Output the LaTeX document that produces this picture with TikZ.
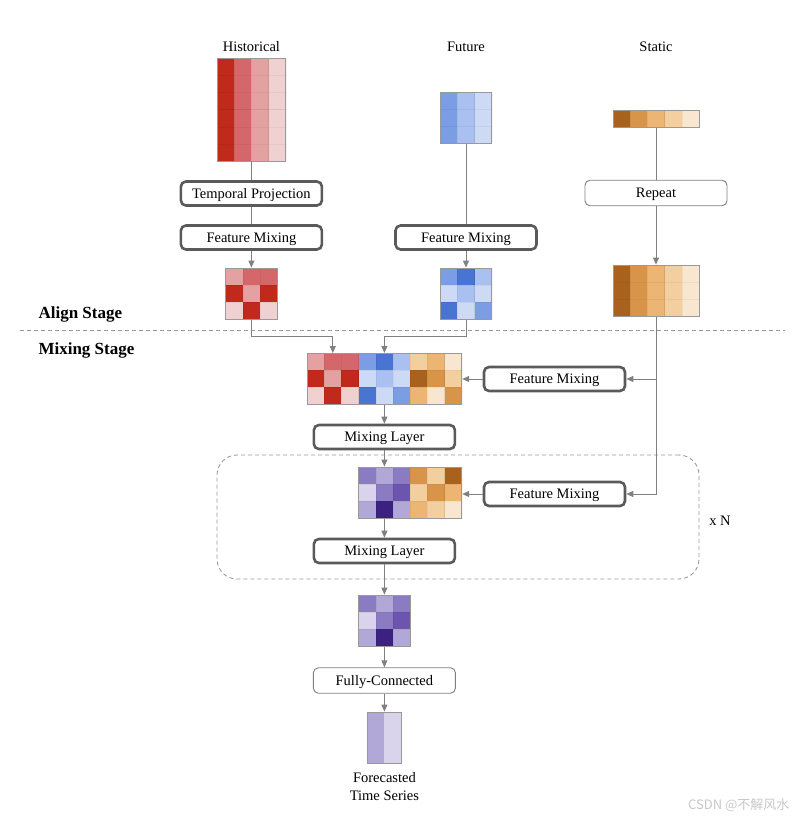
\documentclass[tikz,border=0pt]{standalone}
\usepackage{fontspec}
\setmainfont{Liberation Serif}
\newfontfamily\cjkfont{Noto Sans CJK SC}
\usetikzlibrary{arrows.meta}
\definecolor{histDark}{HTML}{C0291B}
\definecolor{histMid}{HTML}{D3676A}
\definecolor{histLight}{HTML}{E3A1A1}
\definecolor{histPale}{HTML}{F0D0D0}
\definecolor{futDark}{HTML}{4A74D2}
\definecolor{futMid}{HTML}{7A9DE3}
\definecolor{futLight}{HTML}{A9C0F0}
\definecolor{futPale}{HTML}{CCDAF5}
\definecolor{statDark}{HTML}{A8621E}
\definecolor{statMid}{HTML}{D8954A}
\definecolor{statLight}{HTML}{ECB574}
\definecolor{statPale}{HTML}{F3CFA0}
\definecolor{statFaint}{HTML}{F8E6D0}
\definecolor{mixDeep}{HTML}{3B2180}
\definecolor{mixDark}{HTML}{6B55AE}
\definecolor{mixMid}{HTML}{8A7BC2}
\definecolor{mixLight}{HTML}{B2A8D8}
\definecolor{mixPale}{HTML}{D9D3EB}
\definecolor{boxLine}{HTML}{5A5A5A}
\definecolor{wireLine}{HTML}{808080}
\newcommand{\cellrow}[3]{\foreach \c [count=\i from 0] in {#3}
    \filldraw[fill=\c, draw=black, draw opacity=0.045, line width=0.4pt] ({#1+\i*17.2},{#2}) rectangle ++(17.2,17.2);}

\begin{document}
\begin{tikzpicture}[x=1pt, y=-1pt,
    every node/.style={font=\fontsize{14.5}{17.5}\selectfont},
    heavybox/.style={draw=boxLine, line width=2.6pt, rounded corners=5pt, fill=white, minimum width=141, minimum height=24, inner sep=0, text height=12pt, text depth=2.4pt},
    thinbox/.style={draw=wireLine, line width=0.9pt, rounded corners=5pt, fill=white, minimum width=142, minimum height=25.5, inner sep=0, text height=12pt, text depth=2.4pt},
    grid/.style={draw=black!40, line width=0.8pt, inner sep=0},
    stage/.style={font=\fontsize{17}{20}\selectfont\bfseries, anchor=west},
    wire/.style={draw=wireLine, line width=1pt},
    arr/.style={wire, -{Triangle[length=7pt, width=6pt]}}]
    \useasboundingbox (0,0) rectangle (805,822);

    \node (histT) at (251.4,47) {Historical};
    \node (futT) at (466,47) {Future};
    \node (statT) at (656,47) {Static};

    \foreach \r in {0,...,5} {\cellrow{217}{58+\r*17.2}{histDark,histMid,histLight,histPale}}
    \node[grid, minimum width=68.8, minimum height=103.2] (histB) at (251.4,109.6) {};
    \foreach \r in {0,...,2} {\cellrow{440.2}{92+\r*17.2}{futMid,futLight,futPale}}
    \node[grid, minimum width=51.6, minimum height=51.6] (futB) at (466,117.8) {};
    \cellrow{613}{110}{statDark,statMid,statLight,statPale,statFaint}
    \node[grid, minimum width=86, minimum height=17.2] (statS) at (656,118.6) {};

    \node[heavybox] (tp) at (251.4,193.5) {Temporal Projection};
    \node[heavybox] (fmH) at (251.4,237.5) {Feature Mixing};
    \node[heavybox] (fmF) at (466,237.5) {Feature Mixing};
    \node[thinbox] (rep) at (656,193) {Repeat};

    \cellrow{225.6}{268}{histLight,histMid,histMid}
    \cellrow{225.6}{285.2}{histDark,histLight,histDark}
    \cellrow{225.6}{302.4}{histPale,histDark,histPale}
    \node[grid, minimum width=51.6, minimum height=51.6] (histG) at (251.4,293.8) {};
    \cellrow{440.2}{268}{futMid,futDark,futLight}
    \cellrow{440.2}{285.2}{futPale,futLight,futPale}
    \cellrow{440.2}{302.4}{futDark,futPale,futMid}
    \node[grid, minimum width=51.6, minimum height=51.6] (futG) at (466,293.8) {};
    \foreach \r in {0,...,2} {\cellrow{613}{265+\r*17.2}{statDark,statMid,statLight,statPale,statFaint}}
    \node[grid, minimum width=86, minimum height=51.6] (statB) at (656,290.8) {};

    \node[stage] (alignT) at (35,314) {Align Stage};
    \node[stage] (mixT) at (35,350) {Mixing Stage};
    \draw[draw=black!40, line width=0.9pt, dash pattern=on 4pt off 3pt] (20,330) -- (785,330);

    \cellrow{307}{353}{histLight,histMid,histMid,futMid,futDark,futLight,statPale,statLight,statFaint}
    \cellrow{307}{370.2}{histDark,histLight,histDark,futPale,futLight,futPale,statDark,statMid,statPale}
    \cellrow{307}{387.4}{histPale,histDark,histPale,futDark,futPale,futMid,statLight,statFaint,statMid}
    \node[grid, minimum width=154.8, minimum height=51.6] (mixG) at (384.4,378.8) {};
    \coordinate (inH) at (332.8,353);
    \coordinate (inF) at (384.4,353);

    \node[heavybox] (fmA) at (554.5,379) {Feature Mixing};
    \node[heavybox] (ml1) at (384.4,437) {Mixing Layer};

    \node[draw=black!40, line width=0.9pt, dash pattern=on 4pt off 3pt, rounded corners=20pt, minimum width=482, minimum height=124] (loop) at (458,517) {};
    \node (xN) at (720,521) {x N};

    \cellrow{358.6}{467}{mixMid,mixLight,mixMid,statMid,statPale,statDark}
    \cellrow{358.6}{484.2}{mixPale,mixMid,mixDark,statPale,statMid,statLight}
    \cellrow{358.6}{501.4}{mixLight,mixDeep,mixLight,statLight,statPale,statFaint}
    \node[grid, minimum width=103.2, minimum height=51.6] (pmG) at (410.2,492.8) {};
    \node[heavybox] (fmB) at (554.5,494) {Feature Mixing};
    \node[heavybox] (ml2) at (384.4,551) {Mixing Layer};

    \cellrow{358.6}{595}{mixMid,mixLight,mixMid}
    \cellrow{358.6}{612.2}{mixPale,mixMid,mixDark}
    \cellrow{358.6}{629.4}{mixLight,mixDeep,mixLight}
    \node[grid, minimum width=51.6, minimum height=51.6] (pG) at (384.4,620.8) {};
    \node[thinbox] (fc) at (384.4,680.5) {Fully-Connected};
    \fill[mixLight] (367.2,712) rectangle ++(17.2,51.6);
    \fill[mixPale] (384.4,712) rectangle ++(17.2,51.6);
    \node[grid, minimum width=34.4, minimum height=51.6] (outB) at (384.4,737.8) {};
    \node[align=center, font=\fontsize{14.5}{18}\selectfont] (outT) at (384.4,787) {Forecasted\\Time Series};

    \draw[wire] (histB) -- (tp);
    \draw[wire] (tp) -- (fmH);
    \draw[arr] (fmH) -- (histG);
    \draw[wire] (futB) -- (fmF);
    \draw[arr] (fmF) -- (futG);
    \draw[wire] (statS) -- (rep);
    \draw[arr] (rep) -- (statB);
    \draw[arr] (histG.south) -- ++(0,16.4) -| (inH);
    \draw[arr] (futG.south) -- ++(0,16.4) -| (inF);
    \draw[arr] (statB.south) |- (fmA.east);
    \draw[arr] (statB.south) |- (fmB.east);
    \draw[arr] (fmA.west) -- (fmA.west -| mixG.east);
    \draw[arr] (fmB.west) -- (fmB.west -| pmG.east);
    \draw[arr] (mixG) -- (ml1);
    \draw[arr] (ml1.south) -- (ml1.south |- pmG.north);
    \draw[arr] (pmG.south -| ml2) -- (ml2);
    \draw[arr] (ml2) -- (pG);
    \draw[arr] (pG) -- (fc);
    \draw[arr] (fc) -- (outB);

    \node[text=black!22, font=\cjkfont\fontsize{13}{15}\selectfont, anchor=east] (mark) at (793,805) {CSDN @不解风水};
\end{tikzpicture}
\end{document}
